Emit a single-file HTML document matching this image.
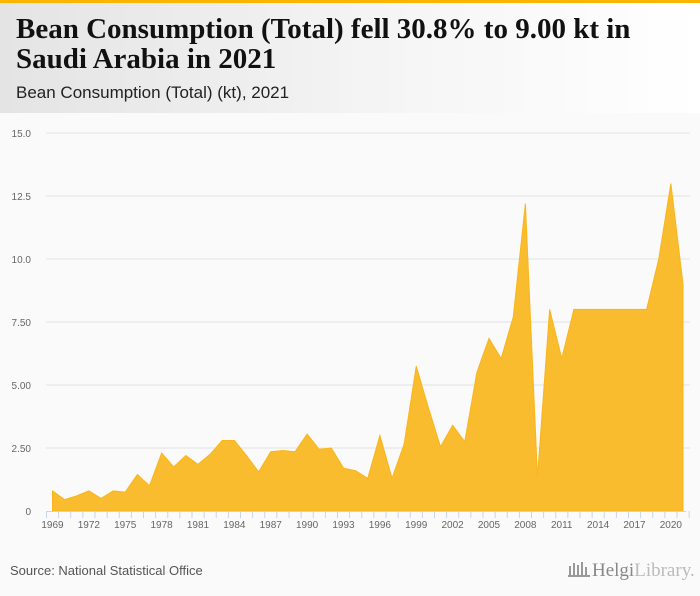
<!DOCTYPE html>
<html><head><meta charset="utf-8"><style>
body{margin:0;width:700px;height:596px;background:#fafafa;font-family:"Liberation Sans",sans-serif;overflow:hidden;position:relative}
#topbar{position:absolute;left:0;top:0;width:700px;height:3px;background:#fbb400}
#header{position:absolute;left:0;top:3px;width:700px;height:110px;background:linear-gradient(90deg,#e4e4e4,#f6f6f6 60%,#fff)}
h1{position:absolute;left:16px;top:11px;margin:0;font-family:"Liberation Serif",serif;font-size:29px;line-height:30px;font-weight:bold;color:#111;white-space:nowrap}
#sub{position:absolute;left:16px;top:80px;font-size:17px;color:#222}
#source{position:absolute;left:10px;top:563px;font-size:13px;color:#555}
#logo{position:absolute;left:568px;top:560px;font-family:"Liberation Serif",serif;font-size:19px;color:#999;white-space:nowrap}
</style></head><body>
<div id="topbar"></div>
<div id="header">
<h1>Bean Consumption (Total) fell 30.8% to 9.00 kt in<br>Saudi Arabia in 2021</h1>
<div id="sub">Bean Consumption (Total) (kt), 2021</div>
</div>
<svg id="chart" width="700" height="596" style="position:absolute;left:0;top:0"></svg>
<div id="source">Source: National Statistical Office</div>
<div id="logo"><svg width="24" height="18" style="vertical-align:-2px"><rect x="1" y="6" width="2" height="10" fill="#999"/><rect x="5" y="3" width="2" height="13" fill="#999"/><rect x="9" y="5" width="2" height="11" fill="#999"/><rect x="13" y="2" width="2" height="14" fill="#999"/><rect x="17" y="7" width="2" height="9" fill="#999"/><rect x="0" y="15" width="22" height="2" fill="#999"/></svg><span style="color:#888">Helgi</span><span style="color:#bbb">Library.</span></div>
<script>
const years=[1969,1970,1971,1972,1973,1974,1975,1976,1977,1978,1979,1980,1981,1982,1983,1984,1985,1986,1987,1988,1989,1990,1991,1992,1993,1994,1995,1996,1997,1998,1999,2000,2001,2002,2003,2004,2005,2006,2007,2008,2009,2010,2011,2012,2013,2014,2015,2016,2017,2018,2019,2020,2021];
const values=[0.8,0.45,0.6,0.8,0.5,0.8,0.75,1.45,1.0,2.3,1.75,2.2,1.85,2.25,2.8,2.8,2.2,1.55,2.35,2.4,2.35,3.05,2.45,2.5,1.7,1.6,1.3,3.0,1.3,2.65,5.75,4.1,2.55,3.4,2.75,5.5,6.85,6.05,7.7,12.2,1.35,8.0,6.05,8.0,8.0,8.0,8.0,8.0,8.0,8.0,10.0,13.0,9.0];
const yTicks=[0,2.5,5,7.5,10,12.5,15];
const yTickLabels=["0","2.50","5.00","7.50","10.0","12.5","15.0"];
const xTickLabels=[1969,1972,1975,1978,1981,1984,1987,1990,1993,1996,1999,2002,2005,2008,2011,2014,2017,2020];
const NS="http://www.w3.org/2000/svg";
const svg=document.getElementById('chart');
const x=y=>52.5+(y-1969)*12.125;
const yS=v=>511-v*25.2;
function mk(t,a){const e=document.createElementNS(NS,t);for(const k in a)e.setAttribute(k,a[k]);svg.appendChild(e);return e;}
const bg=mk('rect',{x:0,y:115,width:700,height:440,fill:'#fafafa'});


yTicks.forEach((t,i)=>{
 if(t>0){const g=mk('line',{x1:46,x2:690,y1:yS(t),y2:yS(t),stroke:'#e2e2e2','stroke-width':1});
 
 }
 const l=mk('text',{x:31,y:yS(t)+4,'text-anchor':'end','font-size':10,fill:'#666','font-family':'Liberation Sans'});
 l.textContent=yTickLabels[i];
 
 
});
let d='M'+x(years[0])+','+yS(0);
years.forEach((yr,i)=>{d+=' L'+x(yr)+','+yS(values[i]);});
d+=' L'+x(years[years.length-1])+','+yS(0)+' Z';
const area=mk('path',{d:d,fill:'#f9bc2f',stroke:'#f9b61c','stroke-width':1});


const ax=mk('line',{x1:46,x2:686,y1:511.5,y2:511.5,stroke:'#c8d4e8'});


years.concat([2022]).forEach(yr=>{
 const t=mk('line',{x1:x(yr)-6,x2:x(yr)-6,y1:511,y2:518,stroke:'#c8d4e8'});
 
 
});
xTickLabels.forEach(yr=>{
 const l=mk('text',{x:x(yr),y:528,'text-anchor':'middle','font-size':10,fill:'#666','font-family':'Liberation Sans'});
 l.textContent=yr;
 
 
});
</script>
</body></html>
